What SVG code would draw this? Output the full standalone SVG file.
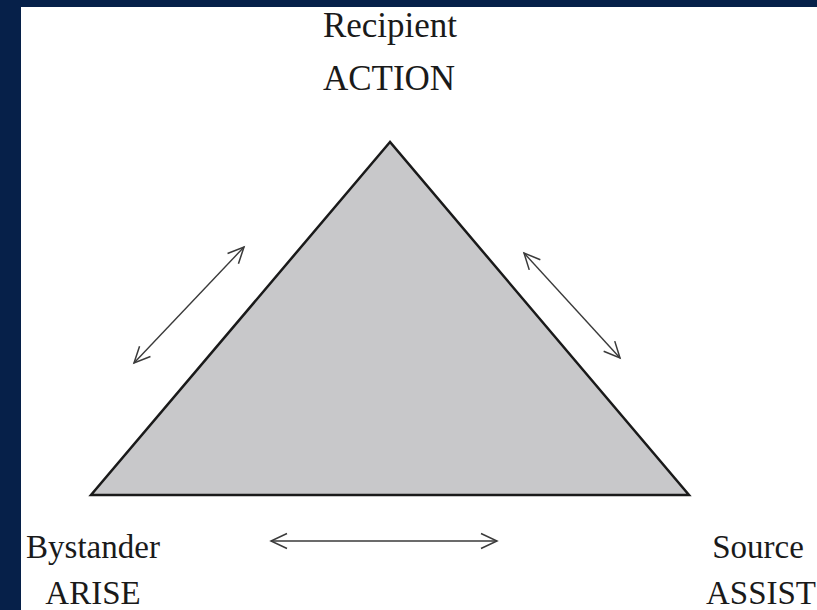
<svg xmlns="http://www.w3.org/2000/svg" width="817" height="610" viewBox="0 0 817 610">
  <style>
    .lbl { font-family: "Liberation Serif", "Times New Roman", serif; font-size: 33px; fill: #1a1a1a; text-anchor: middle; }
    .top { font-size: 35px; }
    .arr { stroke: #3a3a3a; stroke-width: 1.4; fill: none; marker-start: url(#head); marker-end: url(#head); }
  </style>
  <defs>
    <marker id="head" viewBox="-20 -10 22 20" refX="0" refY="0" markerWidth="22" markerHeight="20" markerUnits="userSpaceOnUse" orient="auto-start-reverse" overflow="visible">
      <path d="M -16,-7.5 L 0,0 L -16,7.5" fill="none" stroke="#3a3a3a" stroke-width="1.5" stroke-linejoin="miter"/>
    </marker>
  </defs>
  <rect x="0" y="0" width="817" height="610" fill="#062049"/>
  <rect x="21" y="7" width="796" height="603" fill="#ffffff"/>
  <g id="triangle">
    <polygon points="390,142 91,495 689,495" fill="#c8c8ca" stroke="#1a1a1a" stroke-width="2.5" stroke-linejoin="miter"/>
  </g>
  <g id="recipient">
    <text class="lbl top" x="390" y="37">Recipient</text>
    <text class="lbl top" x="389" y="90">ACTION</text>
  </g>
  <g id="bystander">
    <text class="lbl" x="93" y="558">Bystander</text>
    <text class="lbl" x="93" y="604">ARISE</text>
  </g>
  <g id="source">
    <text class="lbl" x="758" y="558">Source</text>
    <text class="lbl" x="761" y="604">ASSIST</text>
  </g>
  <g id="connectors">
    <line class="arr" x1="134" y1="363" x2="244" y2="247"/>
    <line class="arr" x1="524" y1="253" x2="620" y2="358"/>
    <line class="arr" x1="271" y1="541" x2="497" y2="541"/>
  </g>
</svg>
